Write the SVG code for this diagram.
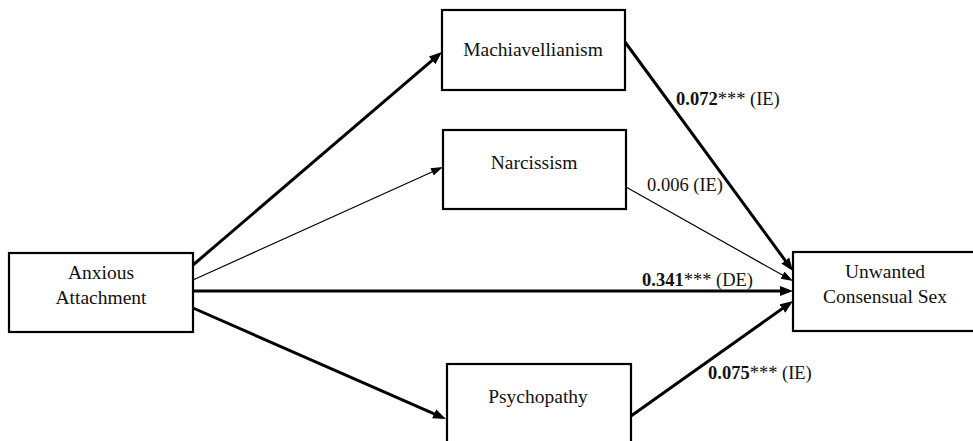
<svg xmlns="http://www.w3.org/2000/svg" width="973" height="441" viewBox="0 0 973 441">
<style>
.box{fill:#fff;stroke:#000;stroke-width:2.2}
.node{font-family:"Liberation Serif","Times New Roman",serif;font-size:19.5px;fill:#111;text-anchor:middle}
.lbl{font-family:"Liberation Serif","Times New Roman",serif;font-size:18.5px;fill:#111}
.thick{stroke:#000;stroke-width:3;fill:none}
.thin{stroke:#000;stroke-width:1.2;fill:none}
</style>
<defs>
<marker id="ah" markerUnits="userSpaceOnUse" markerWidth="14" markerHeight="11" refX="7" refY="5" orient="auto">
<path d="M0,0 L13,5 L0,10 z" fill="#000"/>
</marker>
<marker id="ahs" markerUnits="userSpaceOnUse" markerWidth="13" markerHeight="9" refX="6" refY="4" orient="auto">
<path d="M0,0 L12,4 L0,8 z" fill="#000"/>
</marker>
</defs>
<rect width="973" height="441" fill="#fff"/>
<g id="connectors">
<line class="thick" x1="193" y1="265" x2="437.4" y2="55.9" marker-end="url(#ah)"/>
<line class="thin" x1="193" y1="280" x2="437.5" y2="169.5" marker-end="url(#ahs)"/>
<line class="thick" x1="193" y1="291" x2="787" y2="291" marker-end="url(#ah)"/>
<line class="thick" x1="193" y1="308" x2="440.5" y2="416.6" marker-end="url(#ah)"/>
<line class="thick" x1="625" y1="42" x2="789.4" y2="266.2" marker-end="url(#ah)"/>
<line class="thin" x1="626" y1="187" x2="787.8" y2="278.1" marker-end="url(#ahs)"/>
<line class="thick" x1="631" y1="416" x2="788.1" y2="304.5" marker-end="url(#ah)"/>
</g>
<g id="labels">
<text class="lbl" x="676" y="105"><tspan font-weight="bold">0.072</tspan>*** (IE)</text>
<text class="lbl" x="647" y="191">0.006 (IE)</text>
<text class="lbl" x="642" y="286"><tspan font-weight="bold">0.341</tspan>*** (DE)</text>
<text class="lbl" x="708" y="379"><tspan font-weight="bold">0.075</tspan>*** (IE)</text>
</g>
<g id="anxious">
<rect class="box" x="9" y="253" width="184" height="79"/>
<text class="node" x="101" y="279">Anxious</text>
<text class="node" x="101" y="304">Attachment</text>
</g>
<g id="machiavellianism">
<rect class="box" x="442" y="10" width="183" height="80"/>
<text class="node" x="533" y="56">Machiavellianism</text>
</g>
<g id="narcissism">
<rect class="box" x="443" y="130" width="183" height="79"/>
<text class="node" x="534" y="169">Narcissism</text>
</g>
<g id="psychopathy">
<rect class="box" x="447" y="364" width="184" height="82"/>
<text class="node" x="538" y="403">Psychopathy</text>
</g>
<g id="unwanted">
<rect class="box" x="793" y="252" width="185" height="79"/>
<text class="node" x="885" y="278">Unwanted</text>
<text class="node" x="885" y="303">Consensual Sex</text>
</g>
</svg>
